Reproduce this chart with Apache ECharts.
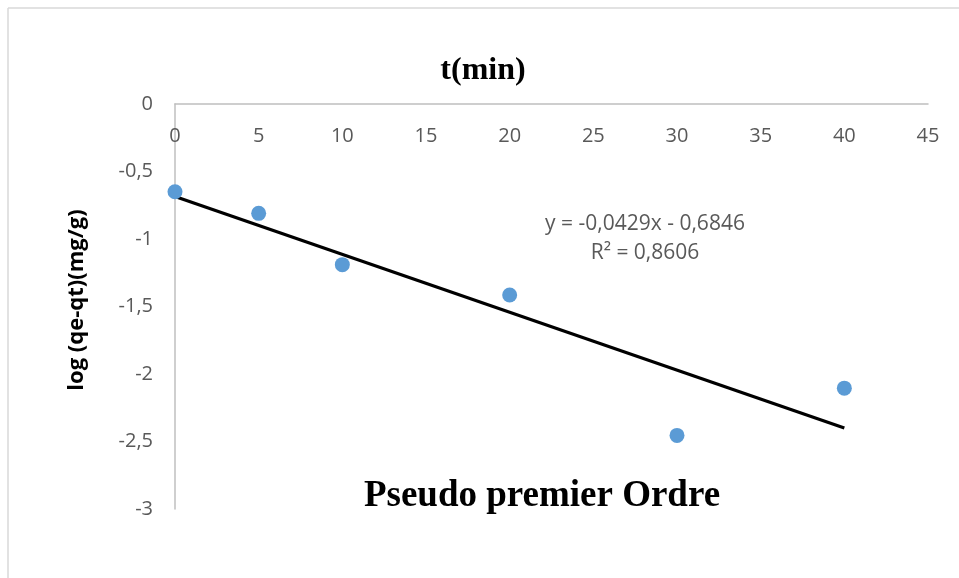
<!DOCTYPE html>
<html><head><meta charset="utf-8">
<script src="https://cdn.jsdelivr.net/npm/echarts@6/dist/echarts.min.js"></script>
<style>html,body{margin:0;padding:0;background:#fff}#c{width:959px;height:578px}</style>
</head><body><div id="c"></div>
<script>
const timeMin = [0, 5, 10, 20, 30, 40];
const logQeQt = [-0.65, -0.81, -1.19, -1.415, -2.455, -2.105];
const trendX = [0, 40];
const trendY = [-0.6846, -2.4006];
const xTicks = [0, 5, 10, 15, 20, 25, 30, 35, 40, 45];
const yTicks = [0, -0.5, -1, -1.5, -2, -2.5, -3];
const eqText = 'y = -0,0429x - 0,6846';
const r2Text = 'R² = 0,8606';

const chart = echarts.init(document.getElementById('c'));
const fmt = v => String(v).replace('.', ',');
chart.setOption({
  animation: false,
  backgroundColor: '#fff',
  grid: { left: 175, right: 31, top: 104, bottom: 69 },
  xAxis: {
    type: 'value', min: 0, max: 45, interval: 5, position: 'top',
    axisLine: { onZero: false, lineStyle: { color: '#bfbfbf', width: 1.5 } },
    axisTick: { show: false },
    splitLine: { show: false },
    axisLabel: { inside: true, margin: 22, color: '#595959', fontSize: 20, fontFamily: 'Open Sans', formatter: v => fmt(v) }
  },
  yAxis: {
    type: 'value', min: -3, max: 0, interval: 0.5,
    axisLine: { show: true, lineStyle: { color: '#bfbfbf', width: 1.5 } },
    axisTick: { show: false },
    splitLine: { show: false },
    axisLabel: { margin: 22, color: '#595959', fontSize: 20, fontFamily: 'Open Sans', formatter: v => fmt(v) }
  },
  series: [
    {
      type: 'line', data: trendX.map((x, i) => [x, trendY[i]]),
      symbol: 'none', lineStyle: { color: '#000', width: 3.2 }, z: 2
    },
    {
      type: 'scatter', data: timeMin.map((x, i) => [x, logQeQt[i]]),
      symbolSize: 15, itemStyle: { color: '#5b9bd5', opacity: 1 }, z: 3
    }
  ],
  graphic: [
    { type: 'line', shape: { x1: 8, y1: 8, x2: 959, y2: 8 }, style: { stroke: '#d9d9d9', lineWidth: 1.5 } },
    { type: 'line', shape: { x1: 8, y1: 8, x2: 8, y2: 578 }, style: { stroke: '#d9d9d9', lineWidth: 1.5 } },
    { type: 'text', x: 483, y: 71, style: { text: 't(min)', font: 'bold 32px "Liberation Serif"', fill: '#000', align: 'center', verticalAlign: 'middle' } },
    { type: 'text', x: 542, y: 496, style: { text: 'Pseudo premier Ordre', font: 'bold 37px "Liberation Serif"', fill: '#000', align: 'center', verticalAlign: 'middle' } },
    { type: 'text', x: 77, y: 300, rotation: Math.PI / 2, style: { text: 'log (qe-qt)(mg/g)', font: 'bold 22px "Open Sans"', fill: '#000', align: 'center', verticalAlign: 'middle' } },
    { type: 'text', x: 645, y: 224, style: { text: eqText, font: '21px "Open Sans"', fill: '#595959', align: 'center', verticalAlign: 'middle' } },
    { type: 'text', x: 645, y: 253, style: { text: r2Text, font: '21px "Open Sans"', fill: '#595959', align: 'center', verticalAlign: 'middle' } }
  ]
});
</script></body></html>
